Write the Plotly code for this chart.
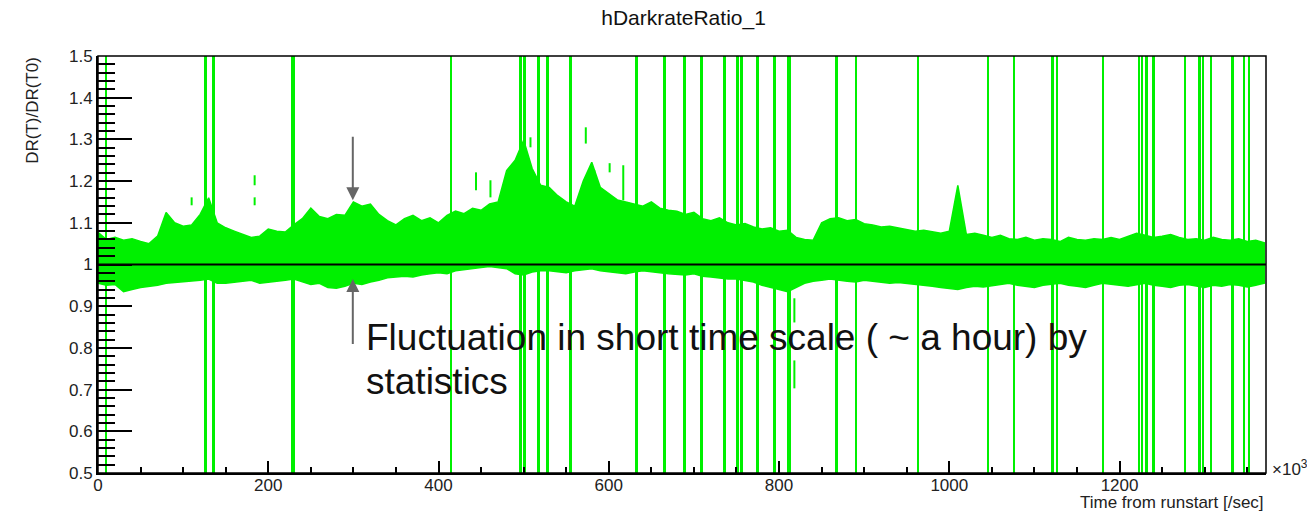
import plotly.graph_objects as go

# ---- data -------------------------------------------------------------
# time from run start (x10^3 sec), sampled every 10 units
time_k = list(range(0, 1380, 10))

# upper / lower edge of the dark-rate-ratio band (value +- stat. error)
ratio_upper = [
    1.077, 1.060, 1.065, 1.058, 1.062, 1.055, 1.050, 1.068, 1.125, 1.100,
    1.092, 1.095, 1.120, 1.160, 1.100, 1.088, 1.080, 1.072, 1.065, 1.068,
    1.085, 1.080, 1.078, 1.095, 1.110, 1.135, 1.115, 1.110, 1.120, 1.118,
    1.150, 1.140, 1.145, 1.120, 1.105, 1.095, 1.110, 1.118, 1.105, 1.112,
    1.100, 1.118, 1.128, 1.122, 1.135, 1.130, 1.145, 1.150, 1.225, 1.250,
    1.298, 1.230, 1.190, 1.185, 1.165, 1.150, 1.140, 1.200, 1.245, 1.185,
    1.170, 1.155, 1.150, 1.145, 1.140, 1.150, 1.135, 1.130, 1.128, 1.120,
    1.125, 1.110, 1.105, 1.112, 1.100, 1.095, 1.098, 1.090, 1.085, 1.088,
    1.080, 1.082, 1.065, 1.060, 1.058, 1.100, 1.110, 1.112, 1.105, 1.108,
    1.098, 1.095, 1.090, 1.092, 1.088, 1.085, 1.080, 1.082, 1.078, 1.075,
    1.080, 1.190, 1.072, 1.075, 1.070, 1.065, 1.070, 1.062, 1.060, 1.065,
    1.058, 1.062, 1.060, 1.055, 1.065, 1.060, 1.058, 1.062, 1.060, 1.065,
    1.060, 1.068, 1.075, 1.070, 1.065, 1.068, 1.072, 1.065, 1.060, 1.062,
    1.058, 1.065, 1.060, 1.058, 1.062, 1.055, 1.058, 1.052,
]
ratio_lower = [
    0.955, 0.950, 0.952, 0.935, 0.940, 0.945, 0.948, 0.950, 0.955, 0.957,
    0.958, 0.960, 0.962, 0.965, 0.955, 0.955, 0.958, 0.960, 0.962, 0.955,
    0.958, 0.960, 0.962, 0.965, 0.958, 0.952, 0.955, 0.945, 0.943, 0.948,
    0.955, 0.952, 0.958, 0.962, 0.968, 0.970, 0.972, 0.970, 0.975, 0.978,
    0.980, 0.978, 0.985, 0.988, 0.990, 0.993, 0.995, 0.992, 0.990, 0.978,
    0.975, 0.982, 0.985, 0.985, 0.983, 0.980, 0.985, 0.988, 0.990, 0.985,
    0.982, 0.980, 0.978, 0.982, 0.985, 0.982, 0.980, 0.978, 0.976, 0.975,
    0.978, 0.972, 0.970, 0.968, 0.965, 0.965, 0.962, 0.958, 0.950, 0.945,
    0.940, 0.935, 0.945, 0.955, 0.960, 0.962, 0.965, 0.962, 0.960, 0.958,
    0.962, 0.960, 0.958, 0.955, 0.957, 0.955, 0.952, 0.950, 0.948, 0.945,
    0.942, 0.940, 0.945, 0.948, 0.946, 0.950, 0.952, 0.955, 0.950, 0.948,
    0.945, 0.950, 0.952, 0.955, 0.950, 0.948, 0.945, 0.950, 0.955, 0.952,
    0.950, 0.948, 0.952, 0.955, 0.950, 0.948, 0.945, 0.950, 0.952, 0.948,
    0.945, 0.950, 0.948, 0.952, 0.950, 0.946, 0.950, 0.955,
]

# isolated bins away from the band: time, low edge, high edge
outlier_time = [110, 184, 184, 444, 461, 508, 573, 583, 601, 617, 818, 818, 867]
outlier_low = [1.142, 1.190, 1.142, 1.178, 1.161, 1.281, 1.290, 1.202, 1.221, 1.154, 0.861, 0.703, 1.166]
outlier_high = [1.161, 1.214, 1.161, 1.221, 1.202, 1.305, 1.329, 1.226, 1.243, 1.238, 0.919, 0.770, 1.190]

# empty bins (error bars run off the full range)
empty_time = [
    9.9, 126.6, 136.0, 228.8, 415.0, 496.7, 501.4, 517.9, 528.4, 555.5,
    633.0, 666.0, 689.4, 709.4, 736.4, 751.7, 756.4, 775.2, 795.2, 811.6,
    868.0, 890.4, 963.2, 1045.5, 1076.0, 1121.3, 1126.6, 1180.6, 1222.9, 1226.4,
    1231.7, 1240.0, 1277.0, 1294.0, 1298.1, 1307.5, 1332.8, 1346.3, 1352.2,
]
empty_width = [
    2.3, 2.3, 2.3, 4.7, 2.3, 2.3, 2.3, 2.3, 2.3, 2.3,
    2.3, 2.3, 2.3, 2.3, 2.3, 2.3, 2.3, 2.3, 2.3, 4.7,
    2.3, 2.3, 2.3, 2.3, 2.3, 2.3, 2.3, 2.3, 2.3, 2.3,
    2.3, 2.3, 2.3, 2.3, 2.3, 2.3, 2.3, 2.3, 2.3,
]

X_MAX = 1372
Y_MIN, Y_MAX = 0.5, 1.5
GREEN = "#00f000"
FONT = "Liberation Sans, Arial, sans-serif"

fig = go.Figure()

# band between the upper and lower edges
fig.add_trace(go.Scatter(
    x=time_k + time_k[::-1],
    y=ratio_upper + ratio_lower[::-1],
    fill="toself", fillcolor=GREEN,
    mode="lines", line=dict(color=GREEN, width=1.5),
    hoverinfo="skip", showlegend=False,
))

# empty bins as full-height bars
fig.add_trace(go.Bar(
    x=empty_time, y=[Y_MAX - Y_MIN] * len(empty_time), base=Y_MIN,
    width=empty_width, marker=dict(color=GREEN, line=dict(width=0)),
    hoverinfo="skip", showlegend=False,
))

# isolated bins as short error segments
ox, oy = [], []
for t, lo, hi in zip(outlier_time, outlier_low, outlier_high):
    ox += [t, t, None]
    oy += [lo, hi, None]
fig.add_trace(go.Scatter(
    x=ox, y=oy, mode="lines", line=dict(color=GREEN, width=2),
    hoverinfo="skip", showlegend=False,
))

# reference line at ratio = 1
fig.add_shape(type="line", xref="x", yref="y", x0=0, x1=X_MAX, y0=1, y1=1,
              line=dict(color="black", width=2), layer="above")

# frame
fig.add_shape(type="rect", xref="paper", yref="paper", x0=0, x1=1, y0=0, y1=1,
              line=dict(color="black", width=1.5), layer="above")

fig.update_layout(
    width=1307, height=511,
    margin=dict(l=98, r=41, t=56, b=38),
    paper_bgcolor="white", plot_bgcolor="white",
    font=dict(family=FONT, color="#222", size=15),
    bargap=0,
    title=dict(text="hDarkrateRatio_1", x=0.523, xanchor="center",
               y=0.965, yanchor="middle", font=dict(size=21, color="#111")),
    xaxis=dict(
        range=[0, X_MAX], showgrid=False, zeroline=False,
        showline=True, linecolor="black", linewidth=2,
        tickmode="linear", tick0=0, dtick=200,
        ticks="inside", ticklen=12, tickwidth=2, tickcolor="black",
        minor=dict(tickmode="linear", tick0=0, dtick=50, ticks="inside",
                   ticklen=6, tickwidth=2, tickcolor="black"),
        tickfont=dict(size=17, color="#222"),
        ticklabelstandoff=-4,
    ),
    yaxis=dict(
        range=[Y_MIN, Y_MAX], showgrid=False, zeroline=False,
        showline=True, linecolor="black", linewidth=2,
        tickmode="linear", tick0=0.5, dtick=0.1,
        ticks="inside", ticklen=34, tickwidth=2, tickcolor="black",
        minor=dict(tickmode="linear", tick0=0.5, dtick=0.02, ticks="inside",
                   ticklen=17, tickwidth=2, tickcolor="black"),
        tickfont=dict(size=17, color="#222"),
    ),
)

# axis titles and exponent label
fig.add_annotation(text="DR(T)/DR(T0)", textangle=-90, xref="paper", yref="paper",
                   x=-0.056, y=1.003, xanchor="center", yanchor="top",
                   showarrow=False, font=dict(size=17, color="#222"))
fig.add_annotation(text="Time from runstart [/sec]", xref="paper", yref="paper",
                   x=1.0, y=-0.07, xanchor="right", yanchor="middle",
                   showarrow=False, font=dict(size=17, color="#222"))
fig.add_annotation(text="×10<sup>3</sup>", xref="paper", yref="paper",
                   x=1.003, y=0.012, xanchor="left", yanchor="middle",
                   showarrow=False, font=dict(size=17, color="#222"))

# arrows pointing at the band edges
ARROW = "#666666"
fig.add_annotation(x=299.3, y=1.154, ax=299.3, ay=1.31, xref="x", yref="y",
                   axref="x", ayref="y", text="", showarrow=True,
                   arrowhead=2, arrowsize=1.3, arrowwidth=2, arrowcolor=ARROW)
fig.add_annotation(x=299.3, y=0.965, ax=299.3, ay=0.806, xref="x", yref="y",
                   axref="x", ayref="y", text="", showarrow=True,
                   arrowhead=2, arrowsize=1.3, arrowwidth=2, arrowcolor=ARROW)

# explanatory text
fig.add_annotation(text="Fluctuation in short time scale ( ~ a hour) by",
                   x=313, y=0.826, xref="x", yref="y", xanchor="left", yanchor="middle",
                   showarrow=False, font=dict(size=37, color="#111"))
fig.add_annotation(text="statistics",
                   x=313, y=0.72, xref="x", yref="y", xanchor="left", yanchor="middle",
                   showarrow=False, font=dict(size=37, color="#111"))

fig.write_html("out.html")
